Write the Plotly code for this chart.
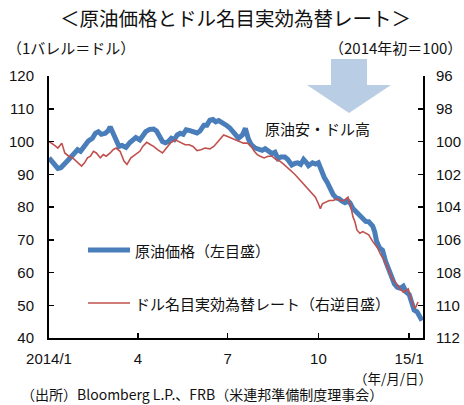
import pandas as pd
import plotly.graph_objects as go

# ---- data ----
oil_days = [0, 3, 6, 9, 12, 16, 19, 23, 26, 29, 32, 37, 40, 44, 47, 50, 53, 57, 60, 62,
            65, 68, 71, 74, 78, 82, 85, 88, 92, 95, 98, 102, 106, 109, 112, 115, 118, 121,
            124, 127, 130, 133, 136, 139, 142, 146, 150, 153, 157, 160, 163, 166, 169, 172,
            176, 180, 183, 187, 190, 192, 196, 199, 202, 205, 209, 212, 216, 219, 222, 226,
            229, 232, 235, 239, 242, 246, 249, 252, 255, 258, 261, 263, 267, 270, 273, 276,
            279, 282, 285, 288, 291, 294, 297, 300, 303, 305, 308, 311, 315, 318, 321, 324,
            328, 330, 332, 335, 338, 341, 344, 347, 350, 353, 356, 359, 362, 365, 368, 370,
            373, 376, 378]
oil_price = [95.0, 94.0, 93.0, 91.8, 92.0, 93.5, 94.2, 95.5, 96.6, 97.5, 97.0, 99.4, 100.2,
             101.0, 102.5, 103.0, 102.2, 102.5, 103.3, 104.5, 102.5, 100.5, 98.5, 98.8, 98.2,
             99.7, 100.5, 101.2, 100.5, 101.5, 103.0, 103.7, 103.8, 103.2, 101.5, 100.0, 99.6,
             100.0, 101.0, 100.6, 102.0, 102.5, 102.2, 103.6, 103.4, 103.0, 102.6, 103.2,
             105.0, 105.0, 106.5, 106.7, 106.0, 106.4, 105.8, 104.9, 104.2, 102.5, 101.8,
             101.0, 102.0, 104.0, 100.8, 99.0, 98.0, 97.8, 97.3, 97.8, 97.0, 96.3, 96.7, 94.8,
             95.3, 95.3, 94.5, 92.8, 93.3, 93.5, 93.0, 94.5, 93.5, 92.6, 93.5, 93.1, 93.5,
             91.0, 89.0, 87.5, 85.5, 83.8, 82.8, 82.5, 81.8, 81.3, 81.8, 81.3, 79.5, 78.5,
             77.3, 76.2, 75.6, 75.5, 74.2, 72.5, 69.5, 67.5, 66.8, 63.5, 61.0, 58.5, 56.5,
             55.5, 55.2, 55.8, 54.0, 53.3, 50.5, 48.5, 48.0, 46.0, 45.3]

usd_days = [0, 3, 6, 9, 13, 16, 20, 24, 28, 33, 36, 39, 42, 45, 48, 52, 55, 58, 62, 65, 68,
            72, 76, 79, 83, 87, 92, 95, 99, 103, 106, 110, 115, 119, 123, 128, 134, 138, 142,
            146, 150, 154, 158, 163, 167, 170, 174, 177, 181, 185, 189, 193, 197, 201, 205,
            208, 211, 214, 218, 222, 226, 230, 234, 238, 242, 246, 249, 252, 255, 259, 262,
            266, 270, 273, 275, 277, 280, 284, 288, 292, 295, 299, 303, 306, 308, 310, 312,
            315, 318, 321, 324, 328, 331, 333, 336, 338, 341, 343, 346, 348, 351, 353, 356,
            359, 362, 364, 366, 368, 371, 374]
usd_neer = [100.0, 100.1, 100.25, 100.4, 100.1, 100.7, 100.9, 101.0, 101.2, 101.5, 101.3,
            101.0, 100.9, 100.6, 100.7, 101.0, 100.8, 100.9, 100.7, 100.5, 100.4, 100.6,
            101.2, 101.4, 101.0, 100.8, 100.6, 100.3, 100.05, 100.2, 100.3, 100.5, 100.7,
            100.4, 100.1, 99.9, 100.1, 100.2, 100.2, 100.3, 100.55, 100.5, 100.4, 100.45,
            100.3, 100.1, 99.8, 99.6, 99.7, 99.8, 99.9, 100.0, 100.1, 100.1, 100.3, 100.6,
            100.8, 100.9, 101.0, 100.9, 100.9, 101.1, 101.2, 101.4, 101.6, 101.8, 102.0,
            102.2, 102.4, 102.6, 102.8, 103.1, 103.4, 103.8, 104.1, 103.8, 103.7, 103.6,
            103.6, 103.5, 103.6, 103.6, 103.4, 104.0, 104.6, 104.9, 105.4, 105.6, 105.5,
            105.6, 105.7, 106.1, 106.3, 106.5, 106.9, 107.1, 107.4, 107.7, 108.1, 108.4,
            108.6, 108.8, 109.0, 109.2, 109.1, 109.0, 109.4, 109.8, 110.2, 109.8]

tick_dates = ["2014-01-01", "2014-04-01", "2014-07-01", "2014-10-01", "2015-01-01"]
tick_labels = ["2014/1", "4", "7", "10", "15/1"]

start = pd.Timestamp("2014-01-01")
oil_dates = [start + pd.Timedelta(days=d) for d in oil_days]
usd_dates = [start + pd.Timedelta(days=d) for d in usd_days]

BLUE = "#4a7ebb"
RED = "#c0504d"
FONT = "Liberation Sans, Arial, Noto Sans CJK JP"
JFONT = "Noto Sans CJK JP"

W, H = 464, 405
L, R, T, B = 49, 423, 76, 338


def px(x):
    return (x - L) / (R - L)


def py(y):
    return (B - y) / (B - T)


fig = go.Figure()
fig.add_trace(go.Scatter(x=oil_dates, y=oil_price, mode="lines",
                         line=dict(color=BLUE, width=5), name="原油価格（左目盛）",
                         showlegend=False, hoverinfo="skip"))
fig.add_trace(go.Scatter(x=usd_dates, y=usd_neer, mode="lines", yaxis="y2",
                         line=dict(color=RED, width=1.6), name="ドル名目実効為替レート（右逆目盛）",
                         showlegend=False, hoverinfo="skip"))

axis_common = dict(showgrid=False, zeroline=False, showline=True, linecolor="black",
                   linewidth=2, ticks="inside", ticklen=5, tickwidth=1.5, tickcolor="black",
                   tickfont=dict(family=FONT, size=15, color="#111"), automargin=False)

fig.update_layout(
    width=W, height=H,
    margin=dict(l=L, r=W - R, t=T, b=H - B, pad=0),
    paper_bgcolor="white", plot_bgcolor="white",
    xaxis=dict(type="date", range=["2014-01-01", "2015-01-15"],
               tickvals=tick_dates, ticktext=tick_labels, ticklabelstandoff=6,
               **axis_common),
    yaxis=dict(range=[40, 120], dtick=10, tick0=40, ticklabelstandoff=10, **axis_common),
    yaxis2=dict(range=[112, 96], dtick=2, tick0=96, overlaying="y", side="right",
                ticklabelstandoff=8, **axis_common),
)

# big arrow
fig.add_shape(type="path",
              path=("M {x0},{y0} L {x1},{y0} L {x1},{y1} L {x2},{y1} L {x3},{y2} "
                    "L {x4},{y1} L {x5},{y1} Z").format(
                  x0=px(331), x1=px(367), x2=px(391), x3=px(349), x4=px(307), x5=px(331),
                  y0=py(59), y1=py(85), y2=py(113)),
              xref="paper", yref="paper", fillcolor="#b9cde5", line=dict(width=0),
              layer="below")

# legend samples
fig.add_shape(type="line", xref="paper", yref="paper", x0=px(88), x1=px(130),
              y0=py(250), y1=py(250), line=dict(color=BLUE, width=5))
fig.add_shape(type="line", xref="paper", yref="paper", x0=px(88), x1=px(130),
              y0=py(303), y1=py(303), line=dict(color=RED, width=1.6))


def note(text, x, y, xanchor="left", size=15, family=JFONT, yanchor="middle"):
    fig.add_annotation(text=text, x=px(x), y=py(y), xref="paper", yref="paper",
                       xanchor=xanchor, yanchor=yanchor, showarrow=False, borderpad=0,
                       font=dict(family=family, size=size, color="#111"))


note("＜原油価格とドル名目実効為替レート＞", 235, 18, "center", size=19.5)
note("（1バレル＝ドル）", 6, 47)
note("（2014年初＝100）", 463, 47, "right")
note("原油安・ドル高", 264, 128)
note("原油価格（左目盛）", 134, 250)
note("ドル名目実効為替レート（右逆目盛）", 134, 303)
note("（年/月/日）", 433, 377.5, "right", size=13.5)
note("（出所）Bloomberg L.P.、FRB（米連邦準備制度理事会）", 20, 404.5, size=14,
     yanchor="bottom")

fig.write_html("out.html", config={"displayModeBar": False, "staticPlot": True},
               post_script="document.body.style.margin='0';document.body.style.overflow='hidden';")
